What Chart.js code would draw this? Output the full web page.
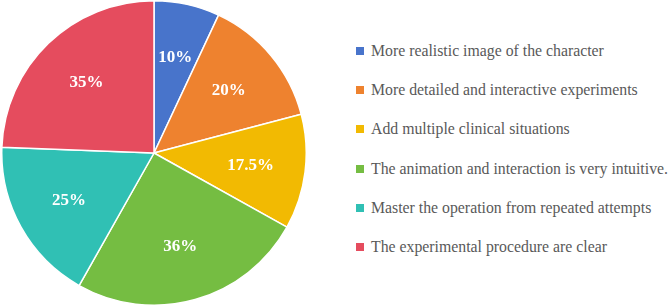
<!DOCTYPE html>
<html>
<head>
<meta charset="utf-8">
<script src="https://cdn.jsdelivr.net/npm/chart.js@4"></script>
<style>
  html, body { margin: 0; padding: 0; background: #fff; }
  #wrap { position: relative; width: 669px; height: 306px; }
  #chartBox { position: absolute; left: 0; top: 0; width: 308px; height: 306px; }
  #legend { position: absolute; left: 356px; top: 31px; font-family: "Liberation Serif", serif; font-size: 15.8px; color: #595959; }
  #legend .row { height: 39.3px; display: flex; align-items: center; white-space: nowrap; }
  #legend .box { width: 8px; height: 8px; margin-right: 7px; flex: none; }
</style>
</head>
<body>
<div id="wrap">
  <div id="chartBox"><canvas id="pieChart"></canvas></div>
  <div id="legend"></div>
</div>
<script>
const labels = [
  'More realistic image of the character',
  'More detailed and interactive experiments',
  'Add multiple clinical situations',
  'The animation and interaction is very intuitive.',
  'Master the operation from repeated attempts',
  'The experimental procedure are clear'
];
const values = [10, 20, 17.5, 36, 25, 35];
const valueLabels = ['10%', '20%', '17.5%', '36%', '25%', '35%'];
const colors = ['#4874CB', '#EE822F', '#F2BA02', '#75BD42', '#30C0B4', '#E54C5E'];

// white bold percentage labels inside the slices
const sliceLabels = {
  id: 'sliceLabels',
  afterDatasetsDraw(chart) {
    const ctx = chart.ctx;
    const meta = chart.getDatasetMeta(0);
    ctx.save();
    ctx.fillStyle = '#fff';
    ctx.font = 'bold 17px "Liberation Serif", serif';
    ctx.textAlign = 'center';
    ctx.textBaseline = 'middle';
    meta.data.forEach((arc, i) => {
      const p = arc.getProps(['x', 'y', 'startAngle', 'endAngle', 'outerRadius'], true);
      const mid = (p.startAngle + p.endAngle) / 2;
      const r = p.outerRadius * 0.64;
      ctx.fillText(valueLabels[i], p.x + Math.cos(mid) * r, p.y + Math.sin(mid) * r);
    });
    ctx.restore();
  }
};

new Chart(document.getElementById('pieChart').getContext('2d'), {
  type: 'pie',
  data: {
    labels,
    datasets: [{
      data: values,
      backgroundColor: colors,
      borderColor: '#fff',
      borderWidth: 1.5
    }]
  },
  options: {
    responsive: true,
    maintainAspectRatio: false,
    animation: false,
    plugins: {
      legend: { display: false },
      tooltip: { enabled: false }
    }
  },
  plugins: [sliceLabels]
});

const legend = document.getElementById('legend');
labels.forEach((text, i) => {
  const row = document.createElement('div');
  row.className = 'row';
  const box = document.createElement('span');
  box.className = 'box';
  box.style.background = colors[i];
  const span = document.createElement('span');
  span.textContent = text;
  row.appendChild(box);
  row.appendChild(span);
  legend.appendChild(row);
});
</script>
</body>
</html>
